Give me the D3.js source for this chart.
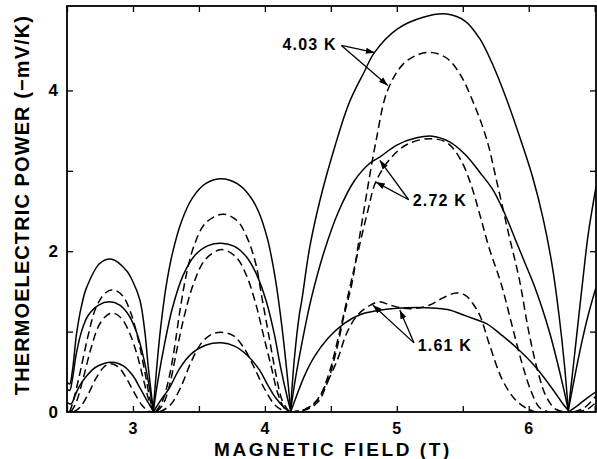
<!DOCTYPE html>
<html>
<head>
<meta charset="utf-8">
<script src="https://cdn.jsdelivr.net/npm/d3@7"></script>
<style>
  body { margin: 0; background: #fff; }
  text { font-family: "Liberation Sans", Arial, Helvetica, sans-serif; font-weight: bold; fill: #000; }
</style>
</head>
<body>
<div id="chart"></div>
<script>
// tick values / labels
const xTickValues = [2.5, 3, 3.5, 4, 4.5, 5, 5.5, 6, 6.5];
const xTickLabels = [3, 4, 5, 6];
const yTickValues = [1, 2, 3, 4];
const yTickLabels = [0, 2, 4];

// curves, one array of arches per curve (B in T, S in -mV/K)
const solid403 = [
  [[2.5,0.37],[2.52,0.35],[2.54,0.5],[2.573,0.98],[2.61,1.32],[2.649,1.55],[2.75,1.85],[2.84,1.9],[2.95,1.76],[3.0,1.62],[3.053,1.39],[3.09,1.0],[3.116,0.56],[3.154,0.02]],
  [[3.154,0.02],[3.18,0.55],[3.21,1.05],[3.25,1.55],[3.3,1.98],[3.37,2.38],[3.45,2.66],[3.55,2.84],[3.67,2.9],[3.79,2.84],[3.88,2.7],[3.95,2.5],[4.02,2.15],[4.08,1.65],[4.13,1.05],[4.17,0.45],[4.195,0.03]],
  [[4.195,0.03],[4.22,0.6],[4.26,1.2],[4.28,1.39],[4.34,2.05],[4.42,2.65],[4.53,3.3],[4.64,3.85],[4.75,4.22],[4.83,4.47],[5.0,4.76],[5.2,4.91],[5.38,4.95],[5.52,4.86],[5.63,4.64],[5.73,4.31],[5.83,3.9],[5.93,3.43],[6.03,2.92],[6.11,2.4],[6.18,1.8],[6.23,1.2],[6.27,0.6],[6.3,0.02]],
  [[6.3,0.02],[6.34,0.6],[6.38,1.2],[6.41,1.64],[6.45,2.2],[6.51,2.8]]
];
const dashed403 = [
  [[2.52,0.0],[2.55,0.15],[2.6,0.5],[2.66,0.95],[2.72,1.3],[2.79,1.48],[2.85,1.52],[2.92,1.45],[2.98,1.25],[3.04,0.9],[3.09,0.5],[3.13,0.15],[3.155,0.0]],
  [[3.17,0.0],[3.22,0.12],[3.27,0.4],[3.31,0.75],[3.36,1.3],[3.41,1.75],[3.47,2.1],[3.55,2.35],[3.68,2.46],[3.79,2.38],[3.87,2.15],[3.93,1.85],[3.98,1.4],[4.03,0.95],[4.08,0.5],[4.13,0.15],[4.18,0.01]],
  [[4.19,0.0],[4.3,0.02],[4.4,0.12],[4.47,0.35],[4.54,0.75],[4.6,1.2],[4.66,1.6],[4.71,2.1],[4.77,2.7],[4.84,3.35],[4.93,4.0],[5.05,4.33],[5.17,4.45],[5.27,4.47],[5.38,4.4],[5.48,4.2],[5.58,3.85],[5.68,3.4],[5.76,2.85],[5.85,2.2],[5.93,1.64],[6.0,1.0],[6.07,0.5],[6.13,0.2],[6.2,0.04],[6.28,0.0]],
  [[6.34,0.0],[6.42,0.05],[6.51,0.2]]
];
const solid272 = [
  [[2.5,0.28],[2.52,0.27],[2.54,0.4],[2.57,0.72],[2.61,1.0],[2.66,1.2],[2.74,1.33],[2.82,1.37],[2.9,1.33],[2.97,1.2],[3.03,0.98],[3.08,0.68],[3.12,0.35],[3.154,0.02]],
  [[3.154,0.01],[3.19,0.4],[3.24,0.85],[3.3,1.3],[3.38,1.7],[3.47,1.95],[3.57,2.07],[3.67,2.1],[3.77,2.06],[3.86,1.93],[3.94,1.7],[4.01,1.38],[4.07,0.98],[4.12,0.55],[4.17,0.18],[4.195,0.02]],
  [[4.195,0.02],[4.23,0.4],[4.28,0.85],[4.35,1.4],[4.45,2.0],[4.56,2.5],[4.68,2.88],[4.8,3.1],[4.87,3.17],[5.0,3.32],[5.15,3.41],[5.27,3.43],[5.4,3.36],[5.52,3.2],[5.63,2.98],[5.73,2.76],[5.82,2.46],[5.9,2.14],[5.97,1.86],[6.04,1.58],[6.1,1.3],[6.16,0.98],[6.22,0.6],[6.27,0.25],[6.3,0.02]],
  [[6.3,0.02],[6.35,0.45],[6.4,0.85],[6.45,1.2],[6.51,1.55]]
];
const dashed272 = [
  [[2.53,0.0],[2.57,0.12],[2.62,0.4],[2.68,0.78],[2.74,1.07],[2.8,1.2],[2.85,1.23],[2.91,1.17],[2.97,1.0],[3.03,0.72],[3.08,0.4],[3.12,0.15],[3.155,0.0]],
  [[3.18,0.0],[3.23,0.1],[3.28,0.35],[3.33,0.75],[3.39,1.2],[3.46,1.6],[3.55,1.9],[3.67,2.02],[3.78,1.93],[3.86,1.7],[3.93,1.35],[3.99,0.95],[4.05,0.55],[4.1,0.22],[4.15,0.04],[4.19,0.0]],
  [[4.19,0.0],[4.3,0.03],[4.4,0.15],[4.48,0.45],[4.56,0.95],[4.63,1.45],[4.7,1.95],[4.78,2.5],[4.84,2.86],[4.95,3.15],[5.08,3.33],[5.25,3.4],[5.38,3.35],[5.48,3.15],[5.56,2.84],[5.63,2.45],[5.7,2.04],[5.79,1.6],[5.87,1.1],[5.95,0.6],[6.02,0.25],[6.08,0.06],[6.15,0.0]],
  [[6.36,0.0],[6.44,0.03],[6.51,0.12]]
];
const solid161 = [
  [[2.5,0.12],[2.53,0.1],[2.56,0.2],[2.59,0.31],[2.65,0.45],[2.72,0.56],[2.84,0.62],[2.93,0.57],[3.0,0.45],[3.05,0.31],[3.1,0.16],[3.154,0.01]],
  [[3.154,0.0],[3.2,0.12],[3.28,0.31],[3.35,0.53],[3.44,0.72],[3.55,0.83],[3.67,0.86],[3.77,0.82],[3.87,0.7],[3.96,0.52],[4.02,0.34],[4.08,0.18],[4.15,0.05],[4.195,0.0]],
  [[4.195,0.0],[4.24,0.2],[4.3,0.45],[4.38,0.7],[4.48,0.92],[4.6,1.1],[4.72,1.21],[4.85,1.26],[5.0,1.29],[5.15,1.3],[5.3,1.29],[5.4,1.27],[5.5,1.21],[5.6,1.15],[5.68,1.1],[5.8,0.95],[5.92,0.78],[6.03,0.6],[6.12,0.42],[6.2,0.24],[6.26,0.1],[6.3,0.02]],
  [[6.3,0.0],[6.37,0.08],[6.44,0.17],[6.51,0.25]]
];
const dashed161 = [
  [[2.55,0.0],[2.6,0.06],[2.66,0.22],[2.72,0.42],[2.78,0.56],[2.83,0.6],[2.89,0.56],[2.95,0.42],[3.01,0.24],[3.07,0.08],[3.12,0.01],[3.155,0.0]],
  [[3.2,0.0],[3.28,0.08],[3.36,0.3],[3.44,0.62],[3.52,0.86],[3.6,0.97],[3.68,0.99],[3.76,0.95],[3.84,0.8],[3.92,0.55],[4.0,0.28],[4.08,0.08],[4.15,0.01],[4.2,0.0]],
  [[4.2,0.0],[4.3,0.03],[4.38,0.12],[4.45,0.3],[4.55,0.65],[4.62,0.98],[4.7,1.2],[4.8,1.33],[4.87,1.37],[4.95,1.33],[5.05,1.29],[5.15,1.29],[5.25,1.33],[5.35,1.42],[5.45,1.48],[5.52,1.45],[5.58,1.34],[5.63,1.2],[5.7,0.85],[5.8,0.4],[5.9,0.15],[5.98,0.05],[6.05,0.0]]
];

// temperature labels and where their arrows point
const labels = [
  {text: "4.03 K", x: 4.545, y: 4.5, anchor: "end", from: [4.58, 4.56], to: [[4.833, 4.47], [4.932, 4.06]]},
  {text: "2.72 K", x: 5.121, y: 2.56, anchor: "start", from: [5.09, 2.64], to: [[4.871, 3.13], [4.841, 2.86]]},
  {text: "1.61 K", x: 5.159, y: 0.76, anchor: "start", from: [5.13, 0.86], to: [[4.818, 1.33], [5.023, 1.27]]}
];

function drawChart() {
  const width = 597, height = 459;
  const margin = {top: 6, right: 1, bottom: 47, left: 67};

  const svg = d3.select("#chart").append("svg")
      .attr("width", width)
      .attr("height", height);

  const x = d3.scaleLinear()
      .domain([2.5, 6.51])
      .range([margin.left, width - margin.right]);
  const y = d3.scaleLinear()
      .domain([0, 5.05])
      .range([height - margin.bottom, margin.top]);

  svg.append("clipPath").attr("id", "plot-clip")
    .append("rect")
      .attr("x", x(2.5)).attr("y", y(5.05))
      .attr("width", x(6.51) - x(2.5)).attr("height", y(0) - y(5.05));

  const line = d3.line()
      .x(d => x(d[0]))
      .y(d => y(d[1]))
      .curve(d3.curveCatmullRom.alpha(0.5));

  const curves = [
    {arches: solid403, dash: null},
    {arches: dashed403, dash: "8,4.5"},
    {arches: solid272, dash: null},
    {arches: dashed272, dash: "8,4.5"},
    {arches: solid161, dash: null},
    {arches: dashed161, dash: "8,4.5"}
  ];

  const plot = svg.append("g").attr("clip-path", "url(#plot-clip)");
  curves.forEach(function(c) {
    plot.selectAll(null)
      .data(c.arches)
      .enter()
      .append("path")
        .attr("d", line)
        .attr("fill", "none")
        .attr("stroke", "#000")
        .attr("stroke-width", 1.5)
        .attr("stroke-dasharray", c.dash);
  });

  // axes, ticks pointing inward on all four sides
  const tick = 6;
  svg.append("g")
      .attr("transform", "translate(0," + y(0) + ")")
      .call(d3.axisTop(x).tickValues(xTickValues).tickSize(tick).tickFormat(""));
  svg.append("g")
      .attr("transform", "translate(0," + y(5.05) + ")")
      .call(d3.axisBottom(x).tickValues(xTickValues).tickSize(tick).tickFormat(""));
  svg.append("g")
      .attr("transform", "translate(" + x(2.5) + ",0)")
      .call(d3.axisRight(y).tickValues(yTickValues).tickSize(tick).tickFormat(""));
  svg.append("g")
      .attr("transform", "translate(" + x(6.51) + ",0)")
      .call(d3.axisLeft(y).tickValues(yTickValues).tickSize(tick).tickFormat(""));
  svg.selectAll(".domain").remove();
  svg.selectAll(".tick line").attr("stroke", "#000").attr("stroke-width", 1.3);

  svg.append("rect")
      .attr("x", x(2.5)).attr("y", y(5.05))
      .attr("width", x(6.51) - x(2.5)).attr("height", y(0) - y(5.05))
      .attr("fill", "none")
      .attr("stroke", "#000")
      .attr("stroke-width", 1.8);

  // tick labels
  svg.selectAll(".xlab")
    .data(xTickLabels)
    .enter().append("text")
      .attr("x", d => x(d))
      .attr("y", y(0) + 22)
      .attr("text-anchor", "middle")
      .attr("font-size", 16)
      .text(d => d);
  svg.selectAll(".ylab")
    .data(yTickLabels)
    .enter().append("text")
      .attr("x", x(2.5) - 9)
      .attr("y", d => y(d) + 6)
      .attr("text-anchor", "end")
      .attr("font-size", 17)
      .text(d => d);

  // axis titles
  svg.append("text")
      .attr("x", 333)
      .attr("y", 456)
      .attr("text-anchor", "middle")
      .attr("font-size", 19)
      .attr("letter-spacing", 2.6)
      .text("MAGNETIC FIELD (T)");
  svg.append("text")
      .attr("transform", "translate(29," + 205 + ") rotate(-90)")
      .attr("text-anchor", "middle")
      .attr("font-size", 20)
      .attr("letter-spacing", 1.1)
      .text("THERMOELECTRIC POWER (\u2212mV/K)");

  // labels with arrows
  svg.append("defs").append("marker")
      .attr("id", "arrow")
      .attr("viewBox", "0 0 10 10")
      .attr("refX", 10).attr("refY", 5)
      .attr("markerWidth", 9).attr("markerHeight", 9)
      .attr("markerUnits", "userSpaceOnUse")
      .attr("orient", "auto")
    .append("path")
      .attr("d", "M0,1.5 L10,5 L0,8.5 Z")
      .attr("fill", "#000");

  labels.forEach(function(l) {
    svg.append("text")
        .attr("x", x(l.x))
        .attr("y", y(l.y))
        .attr("text-anchor", l.anchor)
        .attr("font-size", 16)
        .attr("letter-spacing", 1.2)
        .text(l.text);
    l.to.forEach(function(t) {
      svg.append("line")
          .attr("x1", x(l.from[0])).attr("y1", y(l.from[1]))
          .attr("x2", x(t[0])).attr("y2", y(t[1]))
          .attr("stroke", "#000")
          .attr("stroke-width", 1.3)
          .attr("marker-end", "url(#arrow)");
    });
  });
}

drawChart();
</script>
</body>
</html>
